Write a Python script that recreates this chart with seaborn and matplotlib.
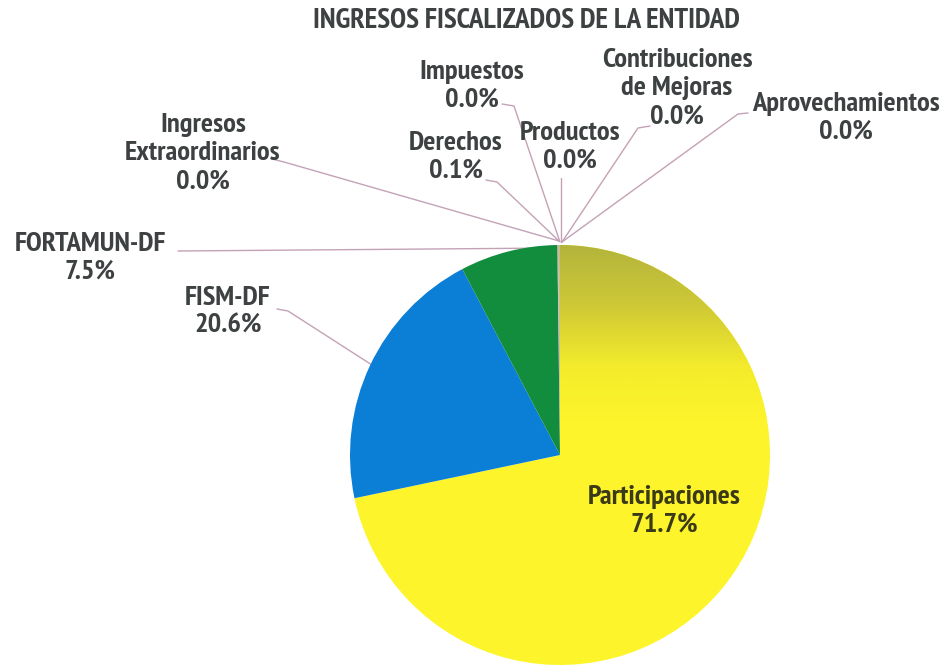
import numpy as np
import matplotlib
matplotlib.use("Agg")
import matplotlib.pyplot as plt
from matplotlib import font_manager
from matplotlib.colors import LinearSegmentedColormap
import seaborn as sns

# ---------------- data ----------------
title = "INGRESOS FISCALIZADOS DE LA ENTIDAD"
categories = ["Participaciones", "FISM-DF", "FORTAMUN-DF", "Ingresos\nExtraordinarios",
              "Impuestos", "Derechos", "Productos", "Contribuciones\nde Mejoras",
              "Aprovechamientos"]
values = [71.7, 20.6, 7.5, 0.02, 0.02, 0.1, 0.02, 0.02, 0.02]
pct_labels = ["71.7%", "20.6%", "7.5%", "0.0%", "0.0%", "0.1%", "0.0%", "0.0%", "0.0%"]
colors = ["#fdf42b", "#0b7fd6", "#128c3d", "#9aa0b8", "#b08070", "#d8c060",
          "#80a0d0", "#c070a0", "#60b0a0"]

sns.set_theme(style="white")
avail = {f.name for f in font_manager.fontManager.ttflist}
fam = [f for f in ["PT Sans Narrow", "Liberation Sans", "DejaVu Sans"] if f in avail]
plt.rcParams["font.family"] = fam

W, H = 948, 665
fig = plt.figure(figsize=(W / 100, H / 100), dpi=100)
ax = fig.add_axes([0, 0, 1, 1])

def P(x, y):
    return x, H - y

cx, cy = P(560, 455)
R = 210
wedges, _ = ax.pie(values, colors=colors, startangle=90, counterclock=False,
                   center=(cx, cy), radius=R, frame=True,
                   wedgeprops=dict(linewidth=0, zorder=3))
ax.set_xlim(0, W)
ax.set_ylim(0, H)
ax.set_aspect("equal")
ax.axis("off")

# gradient shading on the Participaciones slice
cmap = LinearSegmentedColormap.from_list(
    "yg", [(0.0, "#b3b43c"), (0.35, "#cfc936"), (0.7, "#f4ec2b"), (1.0, "#fdf42b")])
grad = np.linspace(0, 1, 200).reshape(-1, 1)
im = ax.imshow(grad, cmap=cmap, extent=(cx - R, cx + R, cy + R - 175, cy + R),
               origin="upper", aspect="auto", zorder=4)
im.set_clip_path(wedges[0])

txt = "#3d4142"
fs = 20.5
ax.text(*P(526, 21), title, ha="center", va="center", fontsize=21, fontweight="bold",
        color=txt)

label_pos = {
    "FISM-DF": (228, 312),
    "FORTAMUN-DF": (90, 258),
    "Ingresos\nExtraordinarios": (203, 153),
    "Impuestos": (472, 86),
    "Derechos": (456, 157),
    "Productos": (570, 147),
    "Contribuciones\nde Mejoras": (677, 88),
    "Aprovechamientos": (846, 118),
}
ls = 1.22
for cat, pct in zip(categories, pct_labels):
    if cat == "Participaciones":
        ax.text(*P(664, 511), f"{cat}\n{pct}", ha="center", va="center", fontsize=fs,
                fontweight="bold", color="#3a3a18", linespacing=ls, zorder=6)
        continue
    x, y = label_pos[cat]
    ax.text(*P(x, y), f"{cat}\n{pct}", ha="center", va="center", fontsize=fs,
            fontweight="bold", color=txt, linespacing=ls, zorder=6)

leaders = {
    "FISM-DF": [(277, 309), (288, 311), (372, 365)],
    "FORTAMUN-DF": [(178, 251), (556, 248)],
    "Ingresos\nExtraordinarios": [(272, 159), (284, 162), (559, 241)],
    "Impuestos": [(502, 104), (514, 106), (560, 242)],
    "Derechos": [(486, 180), (497, 182), (559, 241)],
    "Productos": [(561, 178), (561, 242)],
    "Contribuciones\nde Mejoras": [(650, 126), (638, 128), (562, 242)],
    "Aprovechamientos": [(748, 113), (738, 114), (562, 242)],
}
for cat, pts in leaders.items():
    xs = [p[0] for p in pts]
    ys = [H - p[1] for p in pts]
    ax.plot(xs, ys, color="#c4a2b6", lw=1.0, zorder=2)

fig.savefig("out.png", dpi=100)
